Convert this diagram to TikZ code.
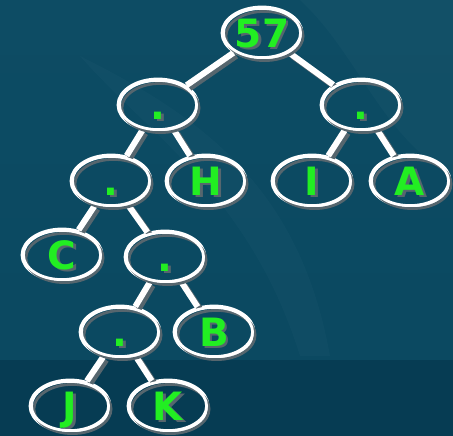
\documentclass[tikz,border=0pt]{standalone}
\usepackage{fontspec}
\setmainfont{DejaVu Sans}
\definecolor{bgtop}{HTML}{0D4C64}
\definecolor{bgbot}{HTML}{0A4860}
\definecolor{band}{HTML}{063C53}
\definecolor{shd}{HTML}{56666E}
\definecolor{lbl}{HTML}{22EE22}
\newcommand\shtext[1]{\leavevmode\rlap{\kern2.5pt\raisebox{-2.5pt}{\textcolor{shd}{#1}}}\textcolor{lbl}{#1}\vphantom{H}}
\tikzset{
  tn/.style={ellipse, draw=white, line width=2.8pt, minimum width=80pt, minimum height=52pt, inner sep=0pt,
    text depth=0pt, font=\fontsize{39}{39}\selectfont\bfseries},
  edge/.style={white, line width=6pt},
  edgeshd/.style={shd, line width=6pt, transform canvas={shift={(3pt,-3pt)}}},
  ringshd/.style={shd, line width=2.8pt},
}
\usetikzlibrary{shapes.geometric}
\begin{document}
\begin{tikzpicture}[x=1pt,y=1pt]
\useasboundingbox (0,0) rectangle (453,436);
\shade[top color=bgtop, bottom color=bgbot] (0,0) rectangle (453,436);
\fill[band] (0,0) rectangle (453,76);
\fill[white, opacity=0.025] (300,436) .. controls (360,380) and (380,300) .. (453,260) -- (453,436) -- cycle;
\fill[white, opacity=0.02] (80,380) .. controls (150,300) and (250,240) .. (300,80) -- (330,80) .. controls (300,250) and (200,320) .. (80,380) -- cycle;
% nodes
\node[tn] (r)   at (262,403) {\shtext{57}};
\node[tn] (l)   at (158,331) {\shtext{.}};
\node[tn] (rr)  at (361,331) {\shtext{.}};
\node[tn] (ll)  at (111,255) {\shtext{.}};
\node[tn] (h)   at (206,255) {\shtext{H}};
\node[tn] (i)   at (312,255) {\shtext{I}};
\node[tn] (a)   at (410,255) {\shtext{A}};
\node[tn] (c)   at (62,181)  {\shtext{C}};
\node[tn] (d1)  at (165,179) {\shtext{.}};
\node[tn] (d2)  at (120,104) {\shtext{.}};
\node[tn] (b)   at (214,104) {\shtext{B}};
\node[tn] (j)   at (70,30)   {\shtext{J}};
\node[tn] (k)   at (168,30)  {\shtext{K}};
% connectors
\foreach \p/\c in {r/l,r/rr,l/ll,l/h,rr/i,rr/a,ll/c,ll/d1,d1/d2,d1/b,d2/j,d2/k}{
  \draw[edgeshd] (\p) -- (\c);
}
\foreach \p/\c in {r/l,r/rr,l/ll,l/h,rr/i,rr/a,ll/c,ll/d1,d1/d2,d1/b,d2/j,d2/k}{
  \draw[edge] (\p) -- (\c);
}
% ring shadows
\foreach \n in {r,l,rr,ll,h,i,a,c,d1,d2,b,j,k}{
  \draw[ringshd] ([shift={(2.5pt,-3pt)}]\n.center) ellipse (38.6pt and 24.6pt);
}
\foreach \n in {r,l,rr,ll,h,i,a,c,d1,d2,b,j,k}{
  \draw[white, line width=2.8pt] (\n.center) ellipse (38.6pt and 24.6pt);
}
\end{tikzpicture}
\end{document}
